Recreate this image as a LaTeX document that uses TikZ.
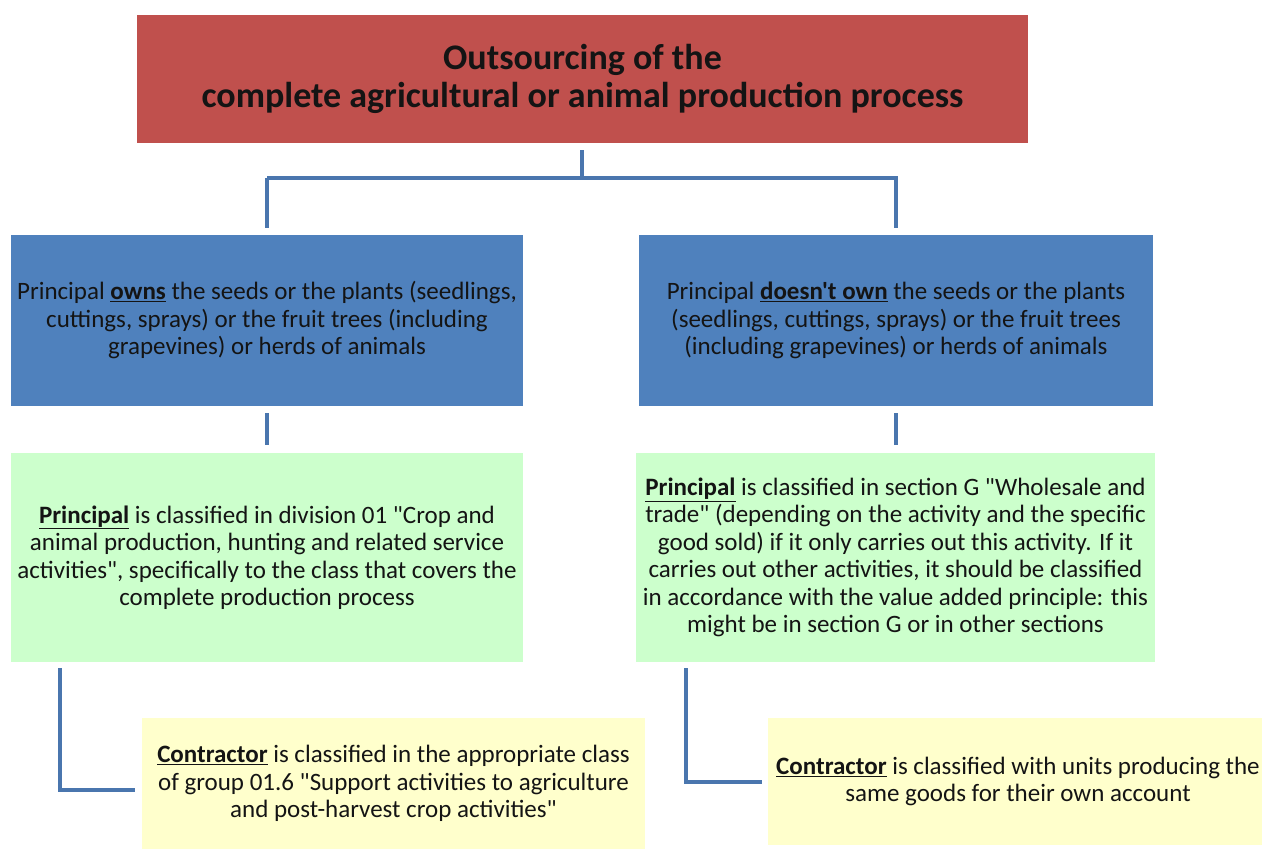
\documentclass[tikz,border=0pt]{standalone}
\usepackage{fontspec}
\setmainfont{Carlito}[Ligatures=TeXOff]
\definecolor{titlered}{HTML}{C0504D}
\definecolor{boxblue}{HTML}{4F81BD}
\definecolor{boxgreen}{HTML}{CCFFCC}
\definecolor{boxyellow}{HTML}{FFFFCC}
\definecolor{connblue}{HTML}{4A76AE}
\definecolor{textdark}{HTML}{141414}
\newcommand\ulbf[1]{\underline{\textbf{#1}}}
\tikzset{
  box/.style={rectangle, inner sep=0pt, align=center, text=textdark,
    font=\fontsize{25}{27.5}\selectfont},
  titlebox/.style={box, fill=titlered, font=\fontsize{36}{38}\selectfont\bfseries},
  bluebox/.style={box, fill=boxblue},
  greenbox/.style={box, fill=boxgreen},
  yellowbox/.style={box, fill=boxyellow},
  conn/.style={draw=connblue, line width=4pt}
}
\begin{document}
\begin{tikzpicture}[x=1pt,y=-1pt]
\useasboundingbox[fill=white] (0,0) rectangle (1262,849);

\node[titlebox, minimum width=891pt, minimum height=128pt] (title) at (582.5,79)
  {Outsourcing of the\\complete agricultural or animal production process};

\node[bluebox, minimum width=512pt, minimum height=171pt] (lb) at (267,320.5)
  {Principal \ulbf{owns} the seeds or the plants (seedlings,\\cuttings, sprays) or the fruit trees (including\\grapevines) or herds of animals};
\node[bluebox, minimum width=514pt, minimum height=171pt] (rb) at (896,320.5)
  {Principal \ulbf{doesn't own} the seeds or the plants\\(seedlings, cuttings, sprays) or the fruit trees\\(including grapevines) or herds of animals};

\node[greenbox, minimum width=512pt, minimum height=209pt] (lg) at (267,557.5)
  {\ulbf{Principal} is classified in division 01 "Crop and\\animal production, hunting and related service\\activities", specifically to the class that covers the\\complete production process};
\node[greenbox, minimum width=519pt, minimum height=209pt] (rg) at (895.5,557.5)
  {\ulbf{Principal} is classified in section G "Wholesale and\\trade" (depending on the activity and the specific\\good sold) if it only carries out this activity. If it\\carries out other activities, it should be classified\\in accordance with the value added principle: this\\might be in section G or in other sections};

\node[yellowbox, minimum width=503pt, minimum height=131pt] (ly) at (393.5,783.5)
  {\ulbf{Contractor} is classified in the appropriate class\\of group 01.6 "Support activities to agriculture\\and post-harvest crop activities"};
\node[yellowbox, minimum width=500pt, minimum height=127pt] (ry) at (1018,781.5)
  {\ulbf{Contractor} is classified with units producing the\\same goods for their own account};

% connectors
\coordinate (split) at (582,178);
\draw[conn] ([yshift=-7pt]title.south -| split) -- (split);
\draw[conn] (lb.north |- split) -| ([yshift=7pt]rb.north);
\draw[conn] (lb.north |- split) -- ([yshift=7pt]lb.north);
\draw[conn] ([yshift=-7pt]lb.south) -- ([yshift=8pt]lg.north -| lb.south);
\draw[conn] ([yshift=-7pt]rb.south) -- ([yshift=8pt]rg.north -| rb.south);
\coordinate (lturn) at (60,790);
\coordinate (rturn) at (686,782);
\draw[conn] ([yshift=-6pt]lg.south -| lturn) -- (lturn) -- ([xshift=-7pt]ly.west |- lturn);
\draw[conn] ([yshift=-6pt]rg.south -| rturn) -- (rturn) -- ([xshift=-6pt]ry.west |- rturn);
\end{tikzpicture}
\end{document}
